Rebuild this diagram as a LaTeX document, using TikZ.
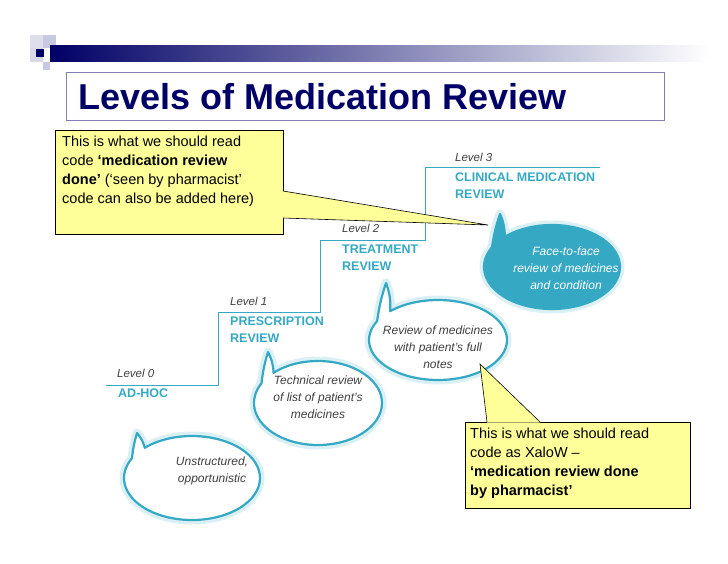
\documentclass[tikz,border=0pt]{standalone}
\usepackage{fontspec}
\setmainfont{Liberation Sans}
\definecolor{navy}{HTML}{000066}
\definecolor{cy}{HTML}{35A9C4}
\definecolor{yel}{HTML}{FFFF99}
\definecolor{lav}{HTML}{C8C8E0}
\tikzset{
  x=1pt,y=-1pt,
  stair/.style={draw=cy,line width=0.8pt},
  lvl/.style={anchor=west,font=\fontsize{11.5}{13}\selectfont\itshape,text=black!75,inner sep=0},
  stage/.style={anchor=north west,align=left,font=\fontsize{12.5}{16.5}\selectfont\bfseries,text=cy,inner sep=0},
  btxt/.style={align=center,font=\fontsize{12}{17}\selectfont\itshape,text=black!75,inner sep=0},
  glow/.style={draw=cy!18,line width=9pt,line join=round},
  bub/.style={draw=cy,line width=2.2pt,line join=round,fill=white},
  callout/.style={fill=yel,draw=black,line width=0.6pt},
  ctxt/.style={anchor=north west,align=left,font=\fontsize{14.5}{19}\selectfont,inner sep=0}
}
\newcommand{\bubble}[6]{% name, cx, cy, rx, ry, tip
  \coordinate (#1) at (#2,#3);
  \foreach \sty in {glow,bub}{
  \draw[\sty] ($(#1)+(226:#4 and #5)$) arc[start angle=226,end angle=568,x radius=#4,y radius=#5]
     to[bend left=5] #6 to[bend left=12] cycle;}
}
\usetikzlibrary{calc}
\begin{document}
\begin{tikzpicture}
\useasboundingbox (0,0) rectangle (728,563);
% header decoration
\fill[lav!60] (30,35) rectangle (43,48);
\fill[lav] (43,35) rectangle (56,48);
\fill[lav!70] (30,48) rectangle (43,62);
\fill[navy] (36,49) rectangle (44,57);
\fill[lav] (43,62) rectangle (50,70);
\shade[left color=navy,right color=white] (50,45) rectangle (710,61);
% title
\node[draw=navy!50,line width=0.6pt,minimum width=598pt,minimum height=48pt,anchor=north west,inner sep=0] (tbox) at (66,72) {};
\node[anchor=west,font=\fontsize{36}{40}\selectfont\bfseries,text=navy,inner sep=0] (title) at (78,97) {Levels of Medication Review};
% stairs
\coordinate (s0) at (106,385); \coordinate (s1) at (218,385); \coordinate (s2) at (218,312);
\coordinate (s3) at (320,312); \coordinate (s4) at (320,240); \coordinate (s5) at (425,240);
\coordinate (s6) at (425,167); \coordinate (s7) at (600,167);
\draw[stair] (s0)--(s1)--(s2)--(s3)--(s4)--(s5)--(s6)--(s7);
\node[lvl] (l0) at (117,373) {Level 0};
\node[stage] (st0) at (118,389) {AD-HOC};
\node[lvl] (l1) at (230,301) {Level 1};
\node[stage] (st1) at (230,317) {PRESCRIPTION\\REVIEW};
\node[lvl] (l2) at (342,228) {Level 2};
\node[stage] (st2) at (342,245) {TREATMENT\\REVIEW};
\node[lvl] (l3) at (455,157) {Level 3};
\node[stage] (st3) at (455,173) {CLINICAL MEDICATION\\REVIEW};
% bubbles
\bubble{b0}{192}{478}{68}{42}{(137,433)}
\bubble{b1}{318}{403}{64}{42}{(268,352)}
\bubble{b2}{438}{340}{69}{40}{(386,283)}
\foreach \sty in {glow,bub}{
\draw[\sty,fill=cy] ($(552,267)+(226:68 and 42)$) arc[start angle=226,end angle=568,x radius=68,y radius=42]
   to[bend left=5] (500,214) to[bend left=12] cycle;}
\coordinate (b3) at (552,267);
\node[btxt] (t0) at (212,471) {Unstructured,\\opportunistic};
\node[btxt] (t1) at (318,397) {Technical review\\of list of patient's\\medicines};
\node[btxt] (t2) at (438,347) {Review of medicines\\with patient's full\\notes};
\node[btxt,text=white] (t3) at (566,268) {Face-to-face\\review of medicines\\and condition};
% callout 1
\node[callout,minimum width=228pt,minimum height=104pt,anchor=north west,inner sep=0] (c1) at (55,130) {};
\coordinate (tip1) at (488,225);
\fill[yel] (282.5,191) -- (tip1) -- (282.5,218) -- cycle;
\draw[line width=0.6pt] (283,191) -- (tip1) -- (283,218);
\node[ctxt] (c1t) at (62,136) {This is what we should read\\code \textbf{‘medication review}\\\textbf{done’} (‘seen by pharmacist’\\code can also be added here)};
% callout 2
\node[callout,minimum width=225pt,minimum height=86pt,anchor=north west,inner sep=0] (c2) at (465,422) {};
\coordinate (tip2) at (480,364);
\fill[yel] (487,422.5) -- (tip2) -- (540,422.5) -- cycle;
\draw[line width=0.6pt] (487,422) -- (tip2) -- (540,422);
\node[ctxt] (c2t) at (470,428) {This is what we should read\\code as XaloW –\\\textbf{‘medication review done}\\\textbf{by pharmacist’}};
\end{tikzpicture}
\end{document}
